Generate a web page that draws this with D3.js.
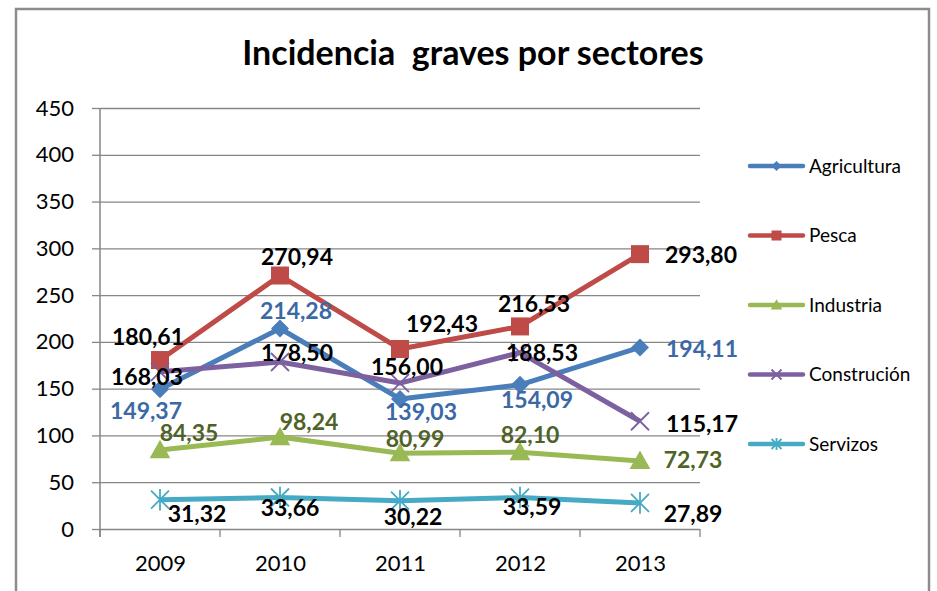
<!DOCTYPE html>
<html>
<head>
<meta charset="utf-8">
<script src="https://cdn.jsdelivr.net/npm/d3@7"></script>
<style>
    body { margin: 0; background: #fff; }
    text { font-family: Lato, "Open Sans", sans-serif; }
</style>
</head>
<body>
<script>
    // data
    const years = ["2009", "2010", "2011", "2012", "2013"];
    const agricultura = [149.37, 214.28, 139.03, 154.09, 194.11];
    const pesca = [180.61, 270.94, 192.43, 216.53, 293.80];
    const industria = [84.35, 98.24, 80.99, 82.10, 72.73];
    const construcion = [168.03, 178.50, 156.00, 188.53, 115.17];
    const servizos = [31.32, 33.66, 30.22, 33.59, 27.89];
    const seriesNames = ["Agricultura", "Pesca", "Industria", "Construción", "Servizos"];
    const yTicks = [0, 50, 100, 150, 200, 250, 300, 350, 400, 450];

    // layout: where each value label sits relative to its point
    const labelNudge = [
        [[-14, 21], [16, -18], [21, 13], [17, 15], [62, 1]],
        [[-12, -23], [17, -19], [42, -25], [14, -23], [61, 1]],
        [[29, -17], [29, -15], [15, -15], [10, -17], [53, -1]],
        [[-13, 5], [17, -9], [7, -16], [22, 0], [62, 2]],
        [[37, 14], [10, 10], [13, 16], [12, 9], [53, 11]]
    ];

    const lineColors = ["#4a7ebb", "#be4b48", "#98b954", "#7d60a0", "#46aac5"];
    const labelColors = ["#3b69a5", "#000", "#4f6228", "#000", "#000"];
    const values = [agricultura, pesca, industria, construcion, servizos];

    const svg = d3.select("body").append("svg")
        .attr("width", 937)
        .attr("height", 591);

    svg.append("rect")
        .attr("x", 16)
        .attr("y", 9)
        .attr("width", 913)
        .attr("height", 620)
        .attr("fill", "white")
        .attr("stroke", "#8c8c8c")
        .attr("stroke-width", 2.5);

    svg.append("text")
        .attr("x", 473)
        .attr("y", 65)
        .attr("text-anchor", "middle")
        .attr("font-weight", "bold")
        .attr("font-size", 34)
        .style("white-space", "pre")
        .text("Incidencia  graves por sectores");

    let x = d3.scalePoint().domain(years).range([100, 700]).padding(0.5);
    let y = d3.scaleLinear().domain([0, 450]).range([529, 108]);

    // gridlines
    svg.append("g")
        .attr("transform", "translate(100,0)")
        .call(d3.axisLeft(y).tickValues(yTicks).tickSize(-600).tickFormat(""))
        .call(g => g.select(".domain").remove())
        .selectAll("line").attr("stroke", "#868686").attr("stroke-width", 1.3);

    // y axis
    svg.append("g")
        .attr("transform", "translate(100,0)")
        .call(d3.axisLeft(y).tickValues(yTicks).tickSize(8).tickPadding(18).tickSizeOuter(0))
        .call(g => g.select(".domain").remove())
        .call(g => g.selectAll("line").attr("stroke", "#868686").attr("stroke-width", 1.3))
        .call(g => g.selectAll("text").attr("font-size", 22).attr("fill", "#000"));

    svg.append("line")
        .attr("x1", 100).attr("x2", 100)
        .attr("y1", y(450)).attr("y2", y(0) + 8)
        .attr("stroke", "#868686")
        .attr("stroke-width", 1.5);

    // x axis
    svg.append("g")
        .attr("transform", "translate(0," + y(0) + ")")
        .call(d3.axisBottom(x).tickSize(0).tickPadding(26))
        .call(g => g.select(".domain").remove())
        .call(g => g.selectAll("text").attr("font-size", 22).attr("fill", "#000"));

    let step = x.step();
    let bounds = years.map(d => x(d) - step / 2).concat([x(years[years.length - 1]) + step / 2]);
    svg.append("g").selectAll("line")
        .data(bounds)
        .join("line")
        .attr("x1", d => d).attr("x2", d => d)
        .attr("y1", y(0)).attr("y2", y(0) + 8)
        .attr("stroke", "#868686")
        .attr("stroke-width", 1.3);

    function drawMarker(g, i, s, color) {
        if (i == 0) {
            g.append("path")
                .attr("d", `M0,${-s} L${s},0 L0,${s} L${-s},0Z`)
                .attr("fill", color);
        } else if (i == 1) {
            g.append("rect")
                .attr("x", -s).attr("y", -s)
                .attr("width", 2 * s).attr("height", 2 * s)
                .attr("fill", color);
        } else if (i == 2) {
            g.append("path")
                .attr("d", `M0,${-s * 1.15} L${s * 1.15},${s * 0.9} L${-s * 1.15},${s * 0.9}Z`)
                .attr("fill", color);
        } else if (i == 3) {
            g.append("path")
                .attr("d", `M${-s},${-s} L${s},${s} M${-s},${s} L${s},${-s}`)
                .attr("stroke", color)
                .attr("stroke-width", 1.8);
        } else {
            g.append("path")
                .attr("d", `M${-s},${-s} L${s},${s} M${-s},${s} L${s},${-s} M0,${-s * 1.2} L0,${s * 1.2}`)
                .attr("stroke", color)
                .attr("stroke-width", 1.8);
        }
    }

    let line = d3.line()
        .x((d, j) => x(years[j]))
        .y(d => y(d));

    values.forEach((vals, i) => {
        svg.append("path")
            .datum(vals)
            .attr("d", line)
            .attr("fill", "none")
            .attr("stroke", lineColors[i])
            .attr("stroke-width", 5)
            .attr("stroke-linejoin", "round");

        vals.forEach((v, j) => {
            let g = svg.append("g")
                .attr("transform", `translate(${x(years[j])},${y(v)})`);
            drawMarker(g, i, 9, lineColors[i]);
        });
    });

    let fmt = v => d3.format(".2f")(v).replace(".", ",");

    values.forEach((vals, i) => {
        vals.forEach((v, j) => {
            svg.append("text")
                .attr("x", x(years[j]) + labelNudge[i][j][0])
                .attr("y", y(v) + labelNudge[i][j][1])
                .attr("dy", "0.36em")
                .attr("text-anchor", "middle")
                .attr("font-weight", "bold")
                .attr("font-size", 23)
                .attr("fill", labelColors[i])
                .text(fmt(v));
        });
    });

    // legend
    seriesNames.forEach((name, i) => {
        let ly = 166 + i * 69.5;
        svg.append("line")
            .attr("x1", 750).attr("x2", 803)
            .attr("y1", ly).attr("y2", ly)
            .attr("stroke", lineColors[i])
            .attr("stroke-width", 4.5)
            .attr("stroke-linecap", "round");
        let g = svg.append("g").attr("transform", `translate(776.5,${ly})`);
        drawMarker(g, i, 5, lineColors[i]);
        svg.append("text")
            .attr("x", 809)
            .attr("y", ly)
            .attr("dy", "0.36em")
            .attr("font-size", 19)
            .text(name);
    });
</script>
</body>
</html>
